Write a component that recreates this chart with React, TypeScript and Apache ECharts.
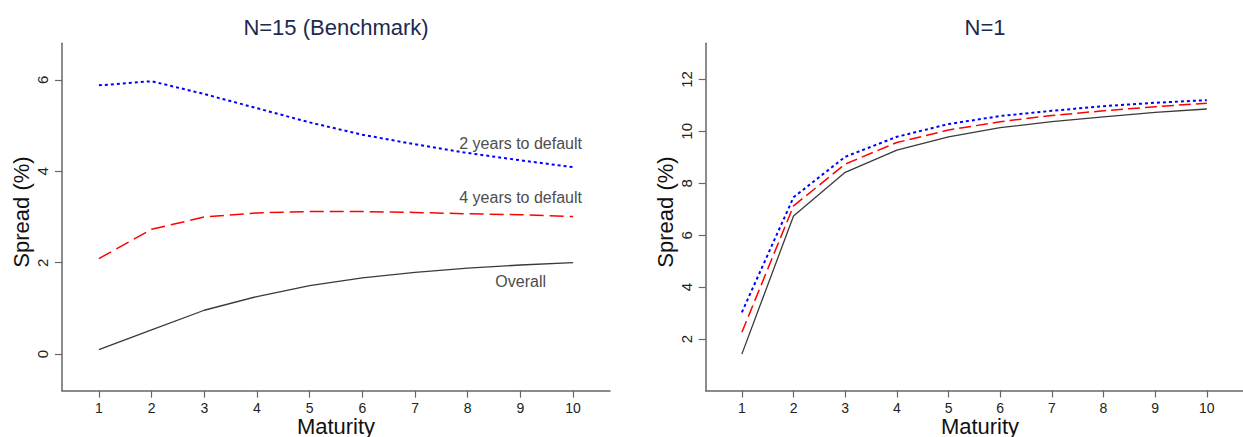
import React, { useEffect, useRef } from "react";
import * as echarts from "echarts";

const maturities = [1, 2, 3, 4, 5, 6, 7, 8, 9, 10];

// Left panel: N=15 (Benchmark)
const leftOverall = [0.1, 0.53, 0.96, 1.26, 1.5, 1.67, 1.79, 1.88, 1.95, 2.0];
const left4Years = [2.09, 2.73, 3.0, 3.09, 3.12, 3.12, 3.1, 3.07, 3.05, 3.01];
const left2Years = [5.88, 5.97, 5.69, 5.38, 5.07, 4.8, 4.59, 4.4, 4.24, 4.09];

// Right panel: N=1
const rightOverall = [1.42, 6.74, 8.42, 9.28, 9.79, 10.14, 10.37, 10.56, 10.73, 10.86];
const right4Years = [2.26, 7.13, 8.74, 9.57, 10.05, 10.37, 10.61, 10.79, 10.95, 11.08];
const right2Years = [3.03, 7.46, 9.02, 9.79, 10.28, 10.59, 10.79, 10.97, 11.1, 11.2];

const xTicks = [1, 2, 3, 4, 5, 6, 7, 8, 9, 10];
const yTicksLeft = [0, 2, 4, 6];
const yTicksRight = [2, 4, 6, 8, 10, 12];

const panelTitles = ["N=15 (Benchmark)", "N=1"];
const xName = "Maturity";
const yName = "Spread (%)";
const seriesNames = ["Overall", "4 years to default", "2 years to default"];

const FONT = "Liberation Sans, Arial, Helvetica, sans-serif";
const AXIS_COLOR = "#666666";

const pairs = (ys: number[]) => maturities.map((m, i) => [m, ys[i]]);

export default function App() {
  const ref = useRef<HTMLDivElement>(null);

  useEffect(() => {
    if (!ref.current) return;
    const chart = echarts.init(ref.current, undefined, { renderer: "svg" });

    const xAxisBase = (gridIndex: number) => ({
      type: "value" as const,
      gridIndex,
      min: 0.3,
      max: 10.7,
      axisLine: { show: true, onZero: false, lineStyle: { color: AXIS_COLOR, width: 1.5 } },
      axisTick: {
        show: true,
        length: 7,
        customValues: xTicks,
        lineStyle: { color: AXIS_COLOR, width: 1.2 },
      },
      axisLabel: {
        customValues: xTicks,
        margin: 10,
        fontSize: 14,
        color: "#222",
        fontFamily: FONT,
      },
      splitLine: { show: false },
    });

    const yAxisBase = (gridIndex: number, min: number, max: number, ticks: number[]) => ({
      type: "value" as const,
      gridIndex,
      min,
      max,
      axisLine: { show: true, onZero: false, lineStyle: { color: AXIS_COLOR, width: 1.5 } },
      axisTick: {
        show: true,
        length: 7,
        customValues: ticks,
        lineStyle: { color: AXIS_COLOR, width: 1.2 },
      },
      axisLabel: {
        customValues: ticks,
        rotate: 90,
        margin: 12,
        fontSize: 15,
        color: "#222",
        fontFamily: FONT,
      },
      splitLine: { show: false },
    });

    const lineSeries = (
      name: string,
      data: number[],
      idx: number,
      color: string,
      type: any,
      width: number
    ) => ({
      name,
      type: "line" as const,
      xAxisIndex: idx,
      yAxisIndex: idx,
      data: pairs(data),
      showSymbol: false,
      symbol: "none",
      lineStyle: { color, type, width },
      z: 3,
    });

    const textEl = (
      text: string,
      x: number,
      y: number,
      fontSize: number,
      color: string,
      align: string,
      rotation = 0
    ) => ({
      type: "text",
      x,
      y,
      rotation,
      style: {
        text,
        fontSize,
        fill: color,
        fontFamily: FONT,
        textAlign: align,
        textVerticalAlign: "middle",
      },
    });

    chart.setOption({
      animation: false,
      backgroundColor: "#ffffff",
      grid: [
        { left: 62, top: 43.3, width: 548, height: 347.4, containLabel: false },
        { left: 705.7, top: 43.3, width: 548, height: 347.2, containLabel: false },
      ],
      xAxis: [xAxisBase(0), xAxisBase(1)],
      yAxis: [
        yAxisBase(0, -0.8, 6.8, yTicksLeft),
        yAxisBase(1, 0.02, 13.39, yTicksRight),
      ],
      series: [
        lineSeries(seriesNames[0], leftOverall, 0, "#3a3a3a", "solid", 1.3),
        lineSeries(seriesNames[1], left4Years, 0, "#ff0000", [14, 6], 1.5),
        lineSeries(seriesNames[2], left2Years, 0, "#0000ff", [3, 3], 2),
        lineSeries(seriesNames[0], rightOverall, 1, "#3a3a3a", "solid", 1.3),
        lineSeries(seriesNames[1], right4Years, 1, "#ff0000", [12, 5], 1.5),
        lineSeries(seriesNames[2], right2Years, 1, "#0000ff", [3, 3], 2),
      ],
      graphic: [
        textEl(panelTitles[0], 336, 27, 22, "#1c2a4f", "center"),
        textEl(panelTitles[1], 985, 27, 22, "#1c2a4f", "center"),
        textEl(xName, 336, 426, 22, "#111", "center"),
        textEl(xName, 980, 426, 22, "#111", "center"),
        textEl(yName, 21.7, 212, 22, "#111", "center", Math.PI / 2),
        textEl(yName, 665, 212, 22, "#111", "center", Math.PI / 2),
        textEl(seriesNames[2], 582, 143, 16, "#4d4d4d", "right"),
        textEl(seriesNames[1], 582, 197, 16, "#4d4d4d", "right"),
        textEl(seriesNames[0], 546, 281, 16, "#4d4d4d", "right"),
      ],
    });

    return () => chart.dispose();
  }, []);

  return (
    <div
      ref={ref}
      style={{ position: "absolute", left: 0, top: 0, width: 1243, height: 437 }}
    />
  );
}
